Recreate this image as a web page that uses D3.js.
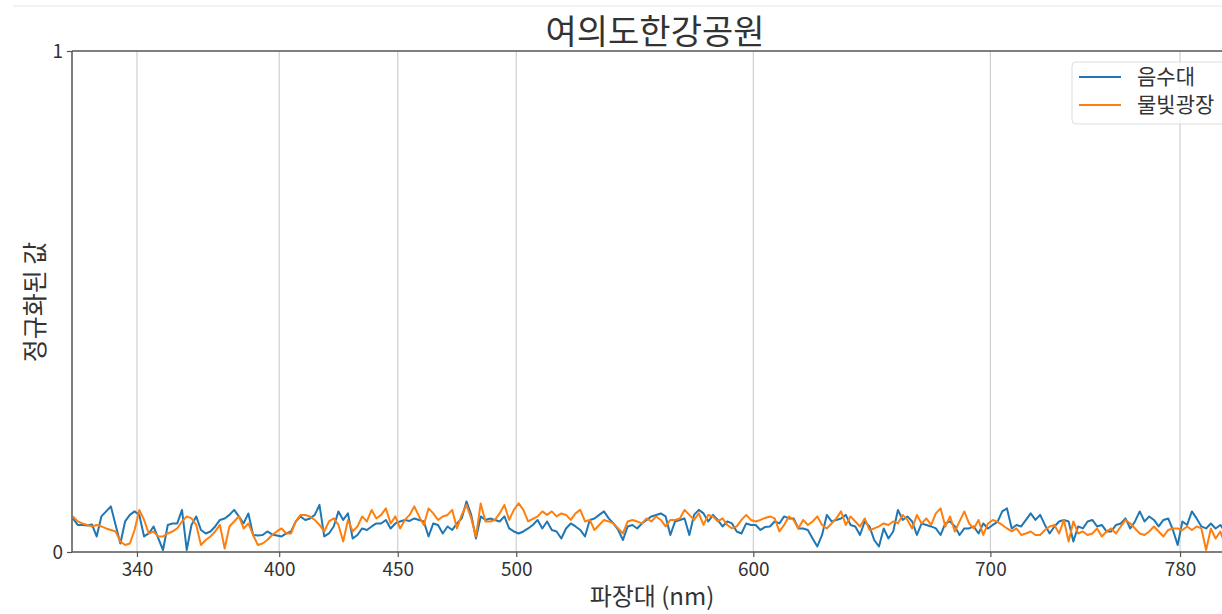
<!DOCTYPE html>
<html>
<head>
<meta charset="utf-8">
<script src="https://cdn.jsdelivr.net/npm/d3@7"></script>
<style>
    body { margin: 0; background: #fff; }
    text { font-family: "Noto Sans CJK KR", "Noto Sans", sans-serif; fill: #333; }
</style>
</head>
<body>
<script>
var title = "여의도한강공원";
var seriesNames = ["음수대", "물빛광장"];
var xTicks = [340, 400, 450, 500, 600, 700, 780];
var yTicks = [0, 1];

var wavelengths = [
    313, 315, 317, 319, 321, 323, 325, 327, 329, 331,
    333, 335, 337, 339, 341, 343, 345, 347, 349, 351,
    353, 355, 357, 359, 361, 363, 365, 367, 369, 371,
    373, 375, 377, 379, 381, 383, 385, 387, 389, 391,
    393, 395, 397, 399, 401, 403, 405, 407, 409, 411,
    413, 415, 417, 419, 421, 423, 425, 427, 429, 431,
    433, 435, 437, 439, 441, 443, 445, 447, 449, 451,
    453, 455, 457, 459, 461, 463, 465, 467, 469, 471,
    473, 475, 477, 479, 481, 483, 485, 487, 489, 491,
    493, 495, 497, 499, 501, 503, 505, 507, 509, 511,
    513, 515, 517, 519, 521, 523, 525, 527, 529, 531,
    533, 535, 537, 539, 541, 543, 545, 547, 549, 551,
    553, 555, 557, 559, 561, 563, 565, 567, 569, 571,
    573, 575, 577, 579, 581, 583, 585, 587, 589, 591,
    593, 595, 597, 599, 601, 603, 605, 607, 609, 611,
    613, 615, 617, 619, 621, 623, 625, 627, 629, 631,
    633, 635, 637, 639, 641, 643, 645, 647, 649, 651,
    653, 655, 657, 659, 661, 663, 665, 667, 669, 671,
    673, 675, 677, 679, 681, 683, 685, 687, 689, 691,
    693, 695, 697, 699, 701, 703, 705, 707, 709, 711,
    713, 715, 717, 719, 721, 723, 725, 727, 729, 731,
    733, 735, 737, 739, 741, 743, 745, 747, 749, 751,
    753, 755, 757, 759, 761, 763, 765, 767, 769, 771,
    773, 775, 777, 779, 781, 783, 785, 787, 789, 791,
    793, 795, 797, 799, 801
];

// 음수대
var fountain = [
    .067, .054, .054, .053, .055, .031, .071, .081, .091, .054,
    .017, .061, .074, .081, .074, .031, .037, .051, .027, .004,
    .054, .057, .057, .084, .004, .054, .071, .044, .037, .041,
    .051, .064, .067, .074, .084, .071, .057, .077, .034, .033,
    .034, .041, .035, .033, .031, .037, .041, .061, .071,
    .064, .067, .074, .094, .031, .037, .051, .081, .064, .077,
    .027, .034, .047, .044, .051, .057, .057, .064, .047, .057,
    .061, .064, .062, .067, .064, .061, .031, .057, .054, .037,
    .051, .044, .057, .067, .101, .074, .027, .071, .064, .067,
    .064, .061, .071, .047, .041, .037, .041, .047, .054,
    .064, .047, .061, .044, .041, .027, .047, .057, .051, .044,
    .031, .064, .067, .074, .081, .067, .057, .044, .024, .051,
    .054, .047, .057, .064, .071, .074, .077, .071, .034, .061,
    .064, .067, .034, .074, .084, .077, .061, .074, .064, .051,
    .061, .057, .041, .037, .057, .054, .054, .044, .050,
    .051, .061, .057, .071, .067, .067, .047, .047, .044, .027,
    .011, .034, .074, .061, .064, .067, .074, .054, .051, .034,
    .061, .051, .024, .011, .047, .027, .041, .084, .064, .071,
    .061, .034, .057, .054, .051, .047, .034, .057, .061, .051,
    .034, .047, .047, .051, .037, .057, .047, .054, .060,
    .081, .087, .047, .054, .051, .064, .077, .064, .074, .054,
    .037, .051, .061, .064, .061, .021, .051, .047, .061, .064,
    .051, .054, .041, .041, .054, .057, .067, .047, .061, .081,
    .061, .071, .064, .051, .064, .067, .044, .014, .061, .054,
    .081, .067, .051, .047, .057, .047, .054, .041, .051
];

// 물빛광장
var plaza = [
    .071, .061, .057, .054, .051, .054, .051, .047, .044, .041,
    .021, .014, .017, .044, .084, .064, .037, .041, .031, .031,
    .037, .041, .047, .061, .071, .067, .054, .014, .024, .031,
    .041, .054, .007, .051, .061, .071, .047, .057, .034, .014,
    .017, .024, .034, .041, .047, .037, .037, .061, .074,
    .074, .071, .064, .054, .041, .061, .067, .054, .021, .064,
    .041, .051, .071, .061, .084, .067, .074, .087, .057, .071,
    .047, .064, .074, .091, .071, .054, .087, .077, .064, .071,
    .074, .084, .047, .074, .094, .067, .031, .097, .061, .061,
    .064, .077, .094, .064, .084, .097, .084, .061, .066,
    .071, .081, .074, .081, .071, .077, .074, .064, .077, .084,
    .061, .064, .044, .054, .064, .061, .057, .047, .037, .061,
    .064, .061, .057, .067, .061, .071, .064, .051, .064, .064,
    .067, .084, .074, .064, .077, .054, .074, .071, .061, .067,
    .054, .047, .051, .064, .074, .064, .061, .064, .068,
    .071, .067, .041, .054, .071, .064, .047, .064, .054, .061,
    .071, .054, .047, .057, .067, .081, .054, .071, .061, .051,
    .067, .044, .047, .051, .057, .054, .061, .057, .074, .064,
    .047, .074, .057, .067, .054, .077, .087, .051, .071, .041,
    .061, .081, .057, .047, .064, .034, .057, .064, .060,
    .054, .047, .041, .047, .034, .037, .041, .034, .034, .044,
    .051, .054, .037, .064, .021, .061, .037, .041, .034, .037,
    .047, .031, .041, .047, .037, .051, .064, .057, .047, .037,
    .034, .041, .051, .041, .031, .044, .047, .047, .044, .051,
    .044, .051, .047, .004, .047, .027, .041, .014, .060
];

var colors = ["#1f77b4", "#ff7f0e"];

var margin = { left: 72, top: 51, right: 0, bottom: 62 };
var width = 1222 - margin.left - margin.right;
var height = 614 - margin.top - margin.bottom;

var x = d3.scaleLinear()
    .domain([312.6, 797.7])
    .range([0, width]);

var y = d3.scaleLinear()
    .domain([0, 1])
    .range([height, 0]);

var root = d3.select("body").append("svg")
    .attr("width", 1222)
    .attr("height", 614);

// faint line at the very top of the screenshot
root.append("line")
    .attr("x1", 13).attr("x2", 1222)
    .attr("y1", 6).attr("y2", 6)
    .attr("stroke", "#f2f2f2")
    .attr("stroke-width", 2);

var svg = root.append("g")
    .attr("transform", "translate(" + margin.left + "," + margin.top + ")");

svg.append("clipPath")
    .attr("id", "clip")
    .append("rect")
    .attr("width", width)
    .attr("height", height);

// vertical grid
svg.selectAll(".grid")
    .data(xTicks)
    .enter()
    .append("line")
    .attr("class", "grid")
    .attr("x1", function (d) { return x(d); })
    .attr("x2", function (d) { return x(d); })
    .attr("y1", 0)
    .attr("y2", height)
    .attr("stroke", "#cfcfcf")
    .attr("stroke-width", 1.2);

var series = [fountain, plaza];
var line = d3.line()
    .x(function (d, i) { return x(wavelengths[i]); })
    .y(function (d) { return y(d); });

svg.append("g")
    .attr("clip-path", "url(#clip)")
    .selectAll("path")
    .data(series)
    .enter()
    .append("path")
    .attr("d", line)
    .attr("fill", "none")
    .attr("stroke", function (d, i) { return colors[i]; })
    .attr("stroke-width", 2)
    .attr("stroke-linejoin", "round");

var xAxis = svg.append("g")
    .attr("transform", "translate(0," + height + ")")
    .call(d3.axisBottom(x).tickValues(xTicks).tickSize(5).tickPadding(6));

var yAxis = svg.append("g")
    .call(d3.axisLeft(y).tickValues(yTicks).tickFormat(d3.format("d")).tickSize(5).tickPadding(4));

[xAxis, yAxis].forEach(function (ax) {
    ax.select(".domain").remove();
    ax.selectAll(".tick line").attr("stroke", "#555").attr("stroke-width", 1.2);
    ax.selectAll(".tick text").attr("font-size", 19).attr("fill", "#333")
        .style("font-family", "'Noto Sans CJK KR', sans-serif");
});

// spines: left, top, bottom
svg.append("line").attr("x1", 0).attr("x2", 0).attr("y1", 0).attr("y2", height)
    .attr("stroke", "#555").attr("stroke-width", 1.5);
svg.append("line").attr("x1", 0).attr("x2", width).attr("y1", 0).attr("y2", 0)
    .attr("stroke", "#555").attr("stroke-width", 1.5);
svg.append("line").attr("x1", 0).attr("x2", width).attr("y1", height).attr("y2", height)
    .attr("stroke", "#555").attr("stroke-width", 1.5);

root.append("text")
    .attr("x", 655)
    .attr("y", 44)
    .attr("text-anchor", "middle")
    .attr("font-size", 34)
    .text(title);

root.append("text")
    .attr("x", 652)
    .attr("y", 605)
    .attr("text-anchor", "middle")
    .attr("font-size", 24)
    .text("파장대 (nm)");

root.append("text")
    .attr("transform", "translate(44,302) rotate(-90)")
    .attr("text-anchor", "middle")
    .attr("font-size", 25)
    .text("정규화된 값");

// legend
var legend = root.append("g")
    .attr("transform", "translate(1072,62)");

legend.append("rect")
    .attr("width", 160)
    .attr("height", 62)
    .attr("rx", 4)
    .attr("fill", "#fff")
    .attr("fill-opacity", 0.8)
    .attr("stroke", "#ddd");

seriesNames.forEach(function (name, i) {
    var g = legend.append("g")
        .attr("transform", "translate(0," + (15 + i * 28) + ")");
    g.append("line")
        .attr("x1", 7).attr("x2", 49)
        .attr("stroke", colors[i])
        .attr("stroke-width", 2);
    g.append("text")
        .attr("x", 65)
        .attr("dy", "0.35em")
        .attr("font-size", 21)
        .text(name);
});
</script>
</body>
</html>
